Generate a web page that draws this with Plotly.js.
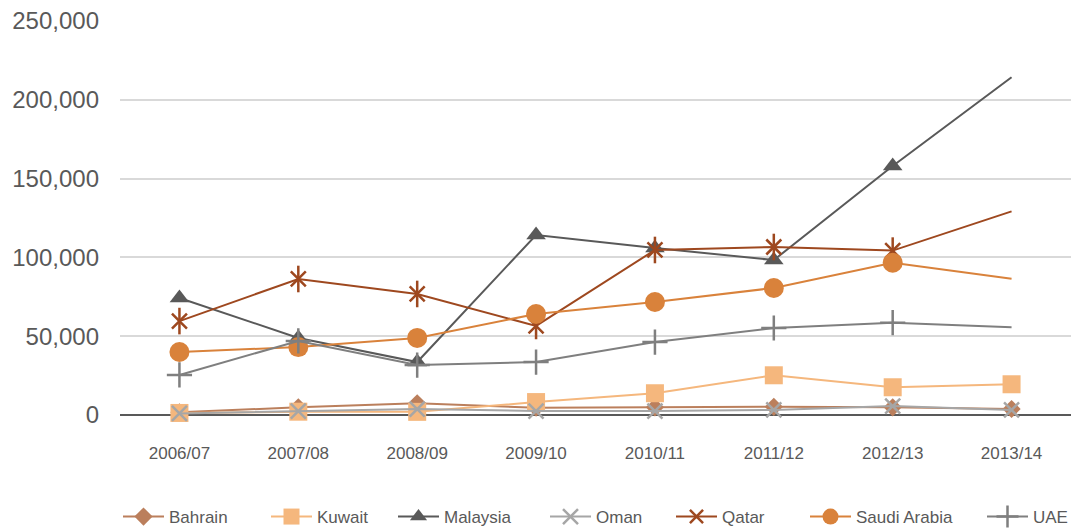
<!DOCTYPE html>
<html>
<head>
<meta charset="utf-8">
<script src="https://cdn.plot.ly/plotly-3.0.1.min.js"></script>
<style>html,body{margin:0;padding:0;background:#fff;}#chart{width:1074px;height:529px;}</style>
</head>
<body>
<div id="chart"></div>
<script>
const years = ["2006/07","2007/08","2008/09","2009/10","2010/11","2011/12","2012/13","2013/14"];
const bahrain = [1700, 4900, 7400, 4600, 4900, 5200, 4900, 3800];
const kuwait = [1300, 2100, 2000, 8200, 13800, 25200, 17600, 19500];
const malaysia = [74200, 48900, 33600, 114200, 106000, 98300, 158000, 214300];
const oman = [1000, 2500, 3800, 2500, 2500, 3200, 5700, 3200];
const qatar = [59600, 86300, 76800, 56500, 104700, 106600, 104300, 129200];
const saudi = [40000, 43100, 48900, 64100, 71700, 80600, 96600, 86500];
const uae = [25400, 47000, 31700, 33600, 46300, 55200, 58600, 55600];
const yTicks = [0, 50000, 100000, 150000, 200000, 250000];
const yTickLabels = ["0", "50,000", "100,000", "150,000", "200,000", "250,000"];

const n = years.length;
function sizes(s, lastHidden) {
  const a = new Array(n).fill(s);
  if (lastHidden) a[n - 1] = 0;
  return a;
}

// lc: legend marker centre (px)
const series = [
  {name: "Bahrain", y: bahrain, color: "#bb7f5c", symbol: "diamond", size: 14, hide: false, lc: 139},
  {name: "Kuwait", y: kuwait, color: "#f5b77d", symbol: "square", size: 18, hide: false, lc: 287},
  {name: "Malaysia", y: malaysia, color: "#595959", symbol: "triangle-up", size: 17, hide: true, lc: 414},
  {name: "Oman", y: oman, color: "#a6a6a6", symbol: "x-thin-open", size: 15, hide: false, lc: 566},
  {name: "Qatar", y: qatar, color: "#9e481f", symbol: "x-thin-open", size: 15, hide: true, lc: 692},
  {name: "Saudi Arabia", y: saudi, color: "#d9823b", symbol: "circle", size: 20, hide: true, lc: 826},
  {name: "UAE", y: uae, color: "#7f7f7f", symbol: "cross-thin-open", size: 18, hide: true, lc: 1003}
];

const traces = [];
const layout = {
  width: 1074,
  height: 529,
  margin: {l: 120, r: 3, t: 21, b: 114},
  paper_bgcolor: "#ffffff",
  plot_bgcolor: "#ffffff",
  font: {family: "Liberation Sans, Arial, sans-serif", color: "#595959"},
  showlegend: true,
  xaxis: {
    type: "category",
    range: [-0.5, 7.5],
    showgrid: false,
    zeroline: false,
    showline: false,
    ticks: "",
    ticklabelstandoff: 26,
    tickfont: {size: 17, color: "#595959"}
  },
  yaxis: {
    range: [0, 250000],
    tickvals: yTicks,
    ticktext: yTickLabels,
    showgrid: true,
    gridcolor: "#d9d9d9",
    gridwidth: 2,
    zeroline: true,
    zerolinecolor: "#595959",
    zerolinewidth: 2,
    showline: false,
    ticks: "",
    ticklabelstandoff: 20,
    tickfont: {size: 24, color: "#595959"}
  }
};

series.forEach((s, i) => {
  const legName = i === 0 ? "legend" : "legend" + (i + 1);
  const open = s.symbol.indexOf("open") >= 0;
  traces.push({
    type: "scatter",
    mode: "lines+markers",
    name: s.name,
    legend: legName,
    x: years,
    y: s.y,
    line: {color: s.color, width: 2},
    marker: {
      symbol: s.symbol,
      size: sizes(s.size, s.hide),
      opacity: 1,
      color: s.color,
      line: {color: s.color, width: open ? 2.5 : 0}
    },
    cliponaxis: false
  });
  if (s.name === "Qatar") {
    traces.push({
      type: "scatter",
      mode: "markers",
      name: s.name,
      legend: legName,
      showlegend: false,
      x: years,
      y: s.y,
      marker: {
        symbol: "line-ns-open",
        size: sizes(19, s.hide),
        opacity: 1,
        color: s.color,
        line: {color: s.color, width: 2.5}
      },
      cliponaxis: false
    });
  }
  layout[legName] = {
    xref: "container",
    yref: "container",
    x: (s.lc - 21) / 1074,
    xanchor: "left",
    y: (529 - 517) / 529,
    yanchor: "middle",
    orientation: "h",
    itemwidth: 41,
    bgcolor: "rgba(0,0,0,0)",
    borderwidth: 0,
    font: {size: 17, color: "#595959"}
  };
});

Plotly.newPlot("chart", traces, layout, {displayModeBar: false, staticPlot: true});
</script>
</body>
</html>
